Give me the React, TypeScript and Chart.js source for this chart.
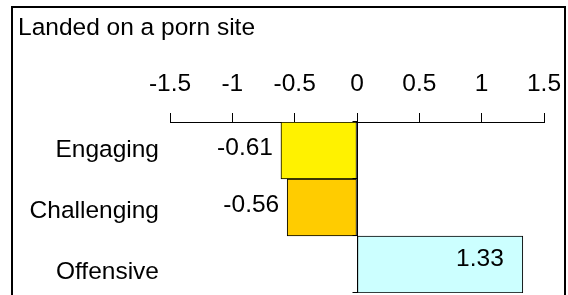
import React, { useEffect, useRef } from "react";
import { Chart, registerables } from "chart.js";

Chart.register(...registerables);

const chartTitle = "Landed on a porn site";
const categories = ["Engaging", "Challenging", "Offensive"];
const values = [-0.61, -0.56, 1.33];
const valueLabels = ["-0.61", "-0.56", "1.33"];
const barColors = ["#FFF200", "#FFCC00", "#CCFFFF"];
const axisMin = -1.5;
const axisMax = 1.5;
const axisStep = 0.5;

const FONT = "'Liberation Sans', Arial, sans-serif";
const FS = 24.5;

const zeroPad = (s: any) => {
  s.paddingLeft = 0;
  s.paddingRight = 0;
  s.paddingTop = 0;
  s.paddingBottom = 0;
};

const framePlugin = {
  id: "frameAndLabels",
  afterDraw(chart: any) {
    const ctx = chart.ctx;
    const xs = chart.scales.x;
    const ys = chart.scales.y;
    const area = chart.chartArea;
    ctx.save();
    // frame
    ctx.strokeStyle = "#000";
    ctx.lineWidth = 2;
    ctx.strokeRect(12, 7, 553, 300);
    // title
    ctx.fillStyle = "#000";
    ctx.font = `${FS}px ${FONT}`;
    ctx.textAlign = "left";
    ctx.textBaseline = "alphabetic";
    ctx.fillText(chartTitle, 18, 35);
    // category labels (Excel spreads them slightly wider than the bands)
    ctx.textAlign = "right";
    ctx.textBaseline = "middle";
    categories.forEach((c, i) => {
      const y = ys.getPixelForValue(i);
      ctx.fillText(c, area.left - 11, y + i * 4);
    });
    // category axis at zero
    const x0 = Math.round(xs.getPixelForValue(0)) + 0.5;
    ctx.lineWidth = 1;
    ctx.beginPath();
    ctx.moveTo(x0, area.top);
    ctx.lineTo(x0, area.bottom);
    const n = categories.length;
    const band = (area.bottom - area.top) / n;
    for (let i = 0; i <= n; i++) {
      const y = Math.round(area.top + band * i) - 0.5;
      ctx.moveTo(x0 - 5, y);
      ctx.lineTo(x0, y);
    }
    ctx.stroke();
    // data labels
    const meta = chart.getDatasetMeta(0);
    meta.data.forEach((bar: any, i: number) => {
      const v = values[i];
      ctx.textBaseline = "middle";
      ctx.textAlign = "right";
      if (v < 0) {
        ctx.fillText(valueLabels[i], bar.x - 8, bar.y - 2);
      } else {
        ctx.fillText(valueLabels[i], bar.x - 19, bar.y - 5);
      }
    });
    ctx.restore();
  },
};

export default function App() {
  const ref = useRef<HTMLCanvasElement>(null);
  useEffect(() => {
    if (!ref.current) return;
    const chart = new Chart(ref.current, {
      type: "bar",
      data: {
        labels: categories,
        datasets: [
          {
            data: values,
            backgroundColor: barColors,
            borderColor: "#000",
            borderWidth: 1,
            borderSkipped: false,
            barPercentage: 1,
            categoryPercentage: 1,
          },
        ],
      },
      options: {
        indexAxis: "y",
        animation: false,
        responsive: false,
        maintainAspectRatio: false,
        layout: { padding: { left: 0, right: 24, top: 0, bottom: 2 } },
        plugins: {
          legend: { display: false },
          title: { display: false },
          tooltip: { enabled: false },
        },
        scales: {
          x: {
            type: "linear",
            position: "top",
            min: axisMin,
            max: axisMax,
            ticks: {
              stepSize: axisStep,
              color: "#000",
              font: { family: FONT, size: FS },
              padding: 14,
              maxRotation: 0,
              callback: (v: any) => String(v),
            },
            grid: {
              drawOnChartArea: false,
              drawTicks: true,
              tickLength: 9,
              color: "#000",
            },
            border: { display: true, color: "#000", width: 1 },
            afterFit: (s: any) => {
              s.height = 122;
              zeroPad(s);
            },
          },
          y: {
            type: "category",
            position: "left",
            ticks: { display: false },
            grid: { display: false, drawTicks: false },
            border: { display: false },
            afterFit: (s: any) => {
              s.width = 170;
              zeroPad(s);
            },
          },
        },
      },
      plugins: [framePlugin],
    });
    return () => chart.destroy();
  }, []);
  return (
    <div style={{ position: "absolute", left: 0, top: 0, width: 568, height: 295, background: "#fff" }}>
      <canvas ref={ref} width={568} height={295} style={{ width: 568, height: 295, display: "block" }} />
    </div>
  );
}
